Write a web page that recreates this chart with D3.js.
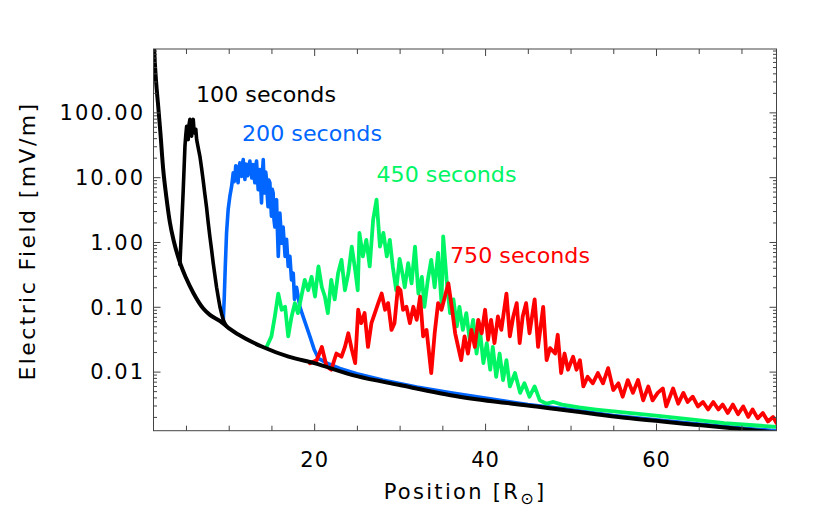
<!DOCTYPE html>
<html>
<head>
<meta charset="utf-8">
<script src="https://cdn.jsdelivr.net/npm/d3@7"></script>
<style>
  body { margin: 0; background: #fff; }
  text { font-family: "DejaVu Sans", sans-serif; fill: #000; }
</style>
</head>
<body>
<svg id="chart"></svg>
<script>

// quiet-field background (black smooth curve)
var basePos = [1.2, 1.35, 1.5, 1.75, 2.0, 2.34, 2.7, 3.12, 3.6, 4.3, 5.0, 5.85, 7.0, 7.8, 9.0, 10, 12, 14, 17, 20, 25, 30, 37, 46, 57, 65, 74.1];
var baseVal = [1500, 600, 300, 125, 50, 13, 5, 2, 1, 0.48, 0.28, 0.165, 0.095, 0.075, 0.06, 0.047, 0.032, 0.024, 0.017, 0.0135, 0.0085, 0.0062, 0.0041, 0.0029, 0.0019, 0.0015, 0.00115];

// 100 seconds
var pos100 = [4.29, 4.49, 4.68, 4.88, 4.98, 5.08, 5.17, 5.26, 5.36, 5.46, 5.56, 5.66, 5.75, 5.85, 5.95, 6.05, 6.15, 6.25, 6.44, 6.63, 6.82, 7.0, 7.2, 7.4, 7.6, 7.8, 8.0, 8.19, 8.38, 8.58, 8.78, 8.97, 9.17, 9.36, 9.56, 9.75];
var val100 = [0.45, 1.7, 6.4, 30, 45, 61, 42, 38, 65, 78, 50, 43, 70, 78, 52, 48, 55, 38, 28, 21, 14, 9.2, 5.6, 3.5, 2.0, 1.2, 0.75, 0.47, 0.31, 0.2, 0.14, 0.1, 0.078, 0.063, 0.055, 0.05];

// 200 seconds
var pos200 = [9.36, 9.48, 9.6, 9.75, 9.94, 10.14, 10.34, 10.53, 10.62, 10.72, 10.82, 10.92, 11.0, 11.1, 11.2, 11.31, 11.4, 11.5, 11.6, 11.7, 11.8, 11.9, 12.0, 12.09, 12.2, 12.3, 12.4, 12.48, 12.6, 12.7, 12.78, 12.87, 12.96, 13.06, 13.16, 13.26, 13.36, 13.45, 13.55, 13.65, 13.75, 13.84, 13.94, 14.04, 14.14, 14.23, 14.33, 14.43, 14.52, 14.6, 14.7, 14.82, 14.9, 15.0, 15.1, 15.2, 15.3, 15.4, 15.5, 15.6, 15.7, 15.8, 15.99, 16.2, 16.37, 16.6, 16.77, 16.96, 17.16, 17.35, 17.55, 17.7, 17.94, 18.33, 18.7, 19.1, 19.5, 20.0, 20.5, 21.5, 23, 25, 28, 32, 36, 40, 45, 50, 55, 60, 65, 70, 74.1];
var val200 = [0.059, 0.14, 0.42, 1.4, 3.2, 5.1, 7.2, 11.7, 8.5, 9.2, 15, 13.9, 10, 8.2, 14, 16.6, 11, 10.3, 16, 18.7, 12, 9.2, 16, 15.6, 10.5, 11.7, 16, 17.7, 12, 9.7, 14, 15.6, 11, 8.2, 15, 17.7, 10, 6.4, 12, 13.1, 7, 4.0, 11, 18.7, 8, 5.7, 12, 9.2, 5, 3.5, 9, 8.2, 4.5, 2.5, 6.5, 5.7, 2.2, 1.7, 3.8, 4.5, 1.5, 0.6, 2.8, 0.96, 1.7, 0.6, 1.1, 0.42, 0.6, 0.26, 0.33, 0.13, 0.2, 0.1, 0.071, 0.05, 0.035, 0.022, 0.016, 0.0135, 0.0112, 0.0093, 0.0074, 0.0058, 0.0047, 0.0039, 0.0031, 0.0026, 0.0021, 0.0018, 0.00155, 0.00135, 0.00122];

// 450 seconds
var pos450 = [14.43, 15.0, 15.4, 15.8, 16.2, 16.6, 16.96, 17.36, 17.74, 18.1, 18.5, 18.9, 19.3, 19.7, 20.1, 20.5, 20.9, 21.25, 21.6, 22.0, 22.4, 22.8, 23.2, 23.6, 24.0, 24.4, 24.8, 25.1, 25.3, 25.7, 26.1, 26.5, 26.9, 27.3, 27.7, 28.1, 28.5, 28.85, 29.2, 29.6, 30.0, 30.4, 30.6, 31.0, 31.4, 31.8, 32.2, 32.6, 32.9, 33.3, 33.7, 34.1, 34.5, 34.9, 35.1, 35.5, 35.9, 36.3, 36.7, 37.0, 37.4, 37.8, 38.2, 38.6, 39.0, 39.4, 39.8, 40.2, 40.6, 40.9, 41.3, 41.7, 42.1, 42.5, 42.9, 43.5, 44.1, 44.6, 45.2, 45.8, 46.4, 47.2, 48, 49, 51, 53, 56.8, 60, 64.6, 68, 71, 74.1];
var val450 = [0.024, 0.035, 0.071, 0.16, 0.09, 0.1, 0.035, 0.071, 0.114, 0.08, 0.144, 0.26, 0.18, 0.29, 0.144, 0.42, 0.2, 0.144, 0.08, 0.26, 0.13, 0.33, 0.53, 0.18, 0.33, 0.85, 0.37, 0.18, 1.38, 0.6, 1.08, 0.42, 2.2, 4.5, 0.85, 1.38, 0.6, 1.08, 0.42, 0.18, 0.55, 0.29, 0.2, 0.47, 0.23, 0.85, 0.16, 0.29, 0.1, 0.26, 0.53, 0.2, 0.68, 0.114, 1.22, 0.26, 0.08, 0.13, 0.05, 0.1, 0.044, 0.08, 0.031, 0.063, 0.019, 0.044, 0.0135, 0.0275, 0.0107, 0.024, 0.0083, 0.019, 0.0074, 0.015, 0.0059, 0.0095, 0.0047, 0.0066, 0.0041, 0.0059, 0.0036, 0.0032, 0.0034, 0.0031, 0.0028, 0.0026, 0.0023, 0.0021, 0.0018, 0.0016, 0.0015, 0.0014];

// 750 seconds
var pos750 = [19.5, 20.3, 20.9, 21.45, 22.0, 22.6, 23.2, 23.6, 24.0, 24.4, 24.8, 25.15, 25.5, 25.9, 26.3, 26.7, 27.1, 27.5, 27.9, 28.3, 28.65, 29.05, 29.4, 29.8, 30.1, 30.4, 30.8, 31.2, 31.6, 32.0, 32.4, 32.75, 33.15, 33.7, 34.1, 34.5, 34.9, 35.3, 35.7, 36.1, 36.5, 36.85, 37.2, 37.6, 38.0, 38.4, 38.8, 39.2, 39.6, 40.0, 40.35, 40.7, 41.1, 41.5, 41.9, 42.5, 42.9, 43.3, 43.7, 44.05, 44.4, 44.8, 45.2, 45.8, 46.2, 46.8, 47.2, 47.6, 48.2, 48.5, 48.9, 49.3, 49.7, 50.3, 50.7, 51.1, 51.5, 52.0, 52.6, 53.2, 53.8, 54.4, 55.0, 55.6, 56.1, 56.7, 57.3, 57.9, 58.5, 59.1, 59.6, 60.2, 60.8, 61.2, 62.0, 62.6, 63.2, 63.7, 64.3, 64.9, 65.5, 66.1, 66.7, 67.3, 67.8, 68.4, 69.0, 69.6, 70.2, 70.8, 71.3, 71.9, 72.5, 73.1, 73.7, 74.1];
var val750 = [0.0135, 0.015, 0.024, 0.012, 0.0107, 0.019, 0.017, 0.024, 0.039, 0.022, 0.0135, 0.09, 0.056, 0.08, 0.024, 0.056, 0.08, 0.114, 0.16, 0.09, 0.114, 0.044, 0.056, 0.2, 0.18, 0.09, 0.1, 0.056, 0.1, 0.063, 0.144, 0.035, 0.044, 0.0095, 0.039, 0.114, 0.09, 0.144, 0.23, 0.1, 0.039, 0.024, 0.015, 0.035, 0.019, 0.044, 0.024, 0.063, 0.039, 0.09, 0.031, 0.063, 0.0275, 0.071, 0.044, 0.16, 0.035, 0.071, 0.114, 0.0275, 0.071, 0.114, 0.039, 0.13, 0.024, 0.1, 0.015, 0.023, 0.019, 0.037, 0.0095, 0.019, 0.0107, 0.017, 0.0107, 0.015, 0.0059, 0.0083, 0.0066, 0.0095, 0.0066, 0.0113, 0.0052, 0.0066, 0.0041, 0.0074, 0.0047, 0.0074, 0.0036, 0.0059, 0.0036, 0.0047, 0.0055, 0.0029, 0.0055, 0.0032, 0.0047, 0.0034, 0.0041, 0.0029, 0.0034, 0.0026, 0.0034, 0.0026, 0.0031, 0.0023, 0.0031, 0.0022, 0.0029, 0.002, 0.0026, 0.0019, 0.0023, 0.0017, 0.002, 0.0016];

var seriesNames = ["100 seconds", "200 seconds", "450 seconds", "750 seconds"];
var yTickVals = [0.01, 0.1, 1, 10, 100];
var yTickLabels = ["0.01", "0.10", "1.00", "10.00", "100.00"];
var xTickVals = [20, 40, 60];
var xTickLabels = ["20", "40", "60"];

var W = 822, H = 529;
var margin = {top: 49, right: 45.5, bottom: 98.3, left: 153.5};
var width = W - margin.left - margin.right;
var height = H - margin.top - margin.bottom;

var svg = d3.select('#chart').attr('width', W).attr('height', H);

var x = d3.scaleLinear().domain([1.2, 74.1]).range([0, width]);
var y = d3.scaleLog().domain([0.001225, 950]).range([height, 0]);

var g = svg.append('g').attr('transform', 'translate(' + margin.left + ',' + margin.top + ')');

g.append('clipPath').attr('id', 'plot')
  .append('rect').attr('width', width).attr('height', height);

var line = d3.line()
  .x(d => x(d[0]))
  .y(d => y(d[1]));

var smooth = d3.line()
  .x(d => x(d[0]))
  .y(d => y(d[1]))
  .curve(d3.curveMonotoneX);

var lines = g.append('g').attr('clip-path', 'url(#plot)')
  .attr('fill', 'none')
  .attr('stroke-linejoin', 'round')
  .attr('stroke-linecap', 'round');

var series = [
  {pos: pos200, val: val200, color: '#0066ff', w: 3.6},
  {pos: pos450, val: val450, color: '#00f565', w: 3.8},
  {pos: pos750, val: val750, color: '#ff0000', w: 3.8},
  {pos: pos100, val: val100, color: '#000', w: 3.6}
];

series.forEach(function(s){
  lines.append('path')
    .attr('d', line(d3.zip(s.pos, s.val)))
    .attr('stroke', s.color)
    .attr('stroke-width', s.w);
});

lines.append('path')
  .attr('d', smooth(d3.zip(basePos, baseVal)))
  .attr('stroke', '#000')
  .attr('stroke-width', 4);

// axes
var axisColor = '#444';
var minorY = y.ticks().filter(v => yTickVals.indexOf(v) < 0);
var minorX = d3.range(5, 75, 5).filter(v => xTickVals.indexOf(v) < 0);

function styleAxis(sel){
  sel.select('.domain').remove();
  sel.selectAll('line').attr('stroke', axisColor);
  sel.attr('font-family', null).attr('font-size', null);
}

g.append('g').call(d3.axisLeft(y).tickValues(yTickVals).tickFormat((d, i) => yTickLabels[i]).tickSize(-7).tickPadding(8.5)).call(styleAxis)
  .selectAll('text').style('font-size', '21px').style('letter-spacing', '2px').attr('dy', '0.35em');
g.append('g').call(d3.axisLeft(y).tickValues(minorY).tickFormat('').tickSize(-3.5)).call(styleAxis);
g.append('g').attr('transform', 'translate(' + width + ',0)')
  .call(d3.axisRight(y).tickValues(yTickVals).tickFormat('').tickSize(-7)).call(styleAxis);
g.append('g').attr('transform', 'translate(' + width + ',0)')
  .call(d3.axisRight(y).tickValues(minorY).tickFormat('').tickSize(-3.5)).call(styleAxis);

g.append('g').attr('transform', 'translate(0,' + height + ')')
  .call(d3.axisBottom(x).tickValues(xTickVals).tickFormat((d, i) => xTickLabels[i]).tickSize(-7).tickPadding(21)).call(styleAxis)
  .selectAll('text').style('font-size', '21px').style('letter-spacing', '1px').attr('dy', '0.71em');
g.append('g').attr('transform', 'translate(0,' + height + ')')
  .call(d3.axisBottom(x).tickValues(minorX).tickFormat('').tickSize(-5)).call(styleAxis);
g.append('g').call(d3.axisTop(x).tickValues(xTickVals).tickFormat('').tickSize(-7)).call(styleAxis);
g.append('g').call(d3.axisTop(x).tickValues(minorX).tickFormat('').tickSize(-5)).call(styleAxis);

g.append('rect')
  .attr('width', width).attr('height', height)
  .attr('fill', 'none').attr('stroke', axisColor).attr('stroke-width', 1);

// axis titles
var xt = svg.append('text')
  .attr('x', 465).attr('y', 499)
  .attr('text-anchor', 'middle')
  .style('font-size', '21px').style('letter-spacing', '2.3px');
xt.append('tspan').text('Position [R');
xt.append('tspan').attr('dy', 5).style('font-size', '16px').text('\u2299');
xt.append('tspan').attr('dy', -5).text(']');

svg.append('text')
  .attr('transform', 'translate(35,241) rotate(-90)')
  .attr('text-anchor', 'middle')
  .style('font-size', '22px').style('letter-spacing', '2.4px')
  .text('Electric Field [mV/m]');

// series labels
var labelPos = [[196, 102, '#000'], [242, 141, '#0066ff'], [376.5, 182, '#00f565'], [450, 263, '#ff0000']];
seriesNames.forEach(function(name, i){
  svg.append('text')
    .attr('x', labelPos[i][0]).attr('y', labelPos[i][1])
    .attr('textLength', 140).attr('lengthAdjust', 'spacingAndGlyphs')
    .style('font-size', '21px')
    .style('fill', labelPos[i][2])
    .text(name);
});

</script>
</body>
</html>
